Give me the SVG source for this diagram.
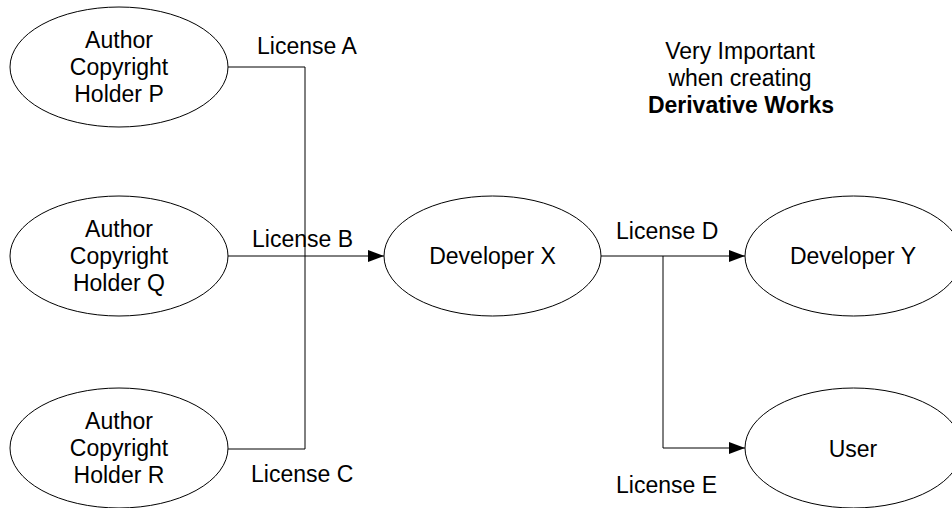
<svg xmlns="http://www.w3.org/2000/svg" width="952" height="508" viewBox="0 0 952 508">
<defs>
<style>
.node ellipse{fill:#fff;stroke:#000;stroke-width:1}
text{font-family:"Liberation Sans",Arial,sans-serif;font-size:23px;fill:#000}
.c{text-anchor:middle}
.b{font-weight:bold}
.conn path{fill:none;stroke:#000;stroke-width:1}
</style>
<marker id="arr" markerWidth="16" markerHeight="12" refX="16" refY="6" orient="auto" markerUnits="userSpaceOnUse">
<path d="M0,0 L16,6 L0,12 Z" fill="#000"/>
</marker>
</defs>
<rect width="952" height="508" fill="#fff"/>
<g id="connectors" class="conn">
<path d="M228,67 H305 V449 H228"/>
<path d="M228,256 H384" marker-end="url(#arr)"/>
<path d="M601,256 H745" marker-end="url(#arr)"/>
<path d="M663,256 V448 H745" marker-end="url(#arr)"/>
</g>
<g id="nodeP" class="node">
<ellipse cx="119" cy="67" rx="109" ry="60"/>
<text class="c" x="119" y="48">Author</text>
<text class="c" x="119" y="75">Copyright</text>
<text class="c" x="119" y="102">Holder P</text>
</g>
<g id="nodeQ" class="node">
<ellipse cx="119" cy="256" rx="109" ry="60"/>
<text class="c" x="119" y="237">Author</text>
<text class="c" x="119" y="264">Copyright</text>
<text class="c" x="119" y="291">Holder Q</text>
</g>
<g id="nodeR" class="node">
<ellipse cx="119" cy="448" rx="109" ry="60"/>
<text class="c" x="119" y="429">Author</text>
<text class="c" x="119" y="456">Copyright</text>
<text class="c" x="119" y="483">Holder R</text>
</g>
<g id="nodeX" class="node">
<ellipse cx="492.5" cy="256" rx="108.5" ry="60"/>
<text class="c" x="492.5" y="264">Developer X</text>
</g>
<g id="nodeY" class="node">
<ellipse cx="853.5" cy="256" rx="108.5" ry="60"/>
<text class="c" x="853" y="264">Developer Y</text>
</g>
<g id="nodeUser" class="node">
<ellipse cx="853.5" cy="448" rx="108.5" ry="60"/>
<text class="c" x="853" y="457">User</text>
</g>
<g id="labels">
<text x="257" y="54">License A</text>
<text x="252" y="247">License B</text>
<text x="251" y="482">License C</text>
<text x="616" y="239">License D</text>
<text x="616" y="493">License E</text>
</g>
<g id="note">
<text class="c" x="740" y="59">Very Important</text>
<text class="c" x="740" y="86">when creating</text>
<text class="c b" x="741" y="113">Derivative Works</text>
</g>
</svg>
